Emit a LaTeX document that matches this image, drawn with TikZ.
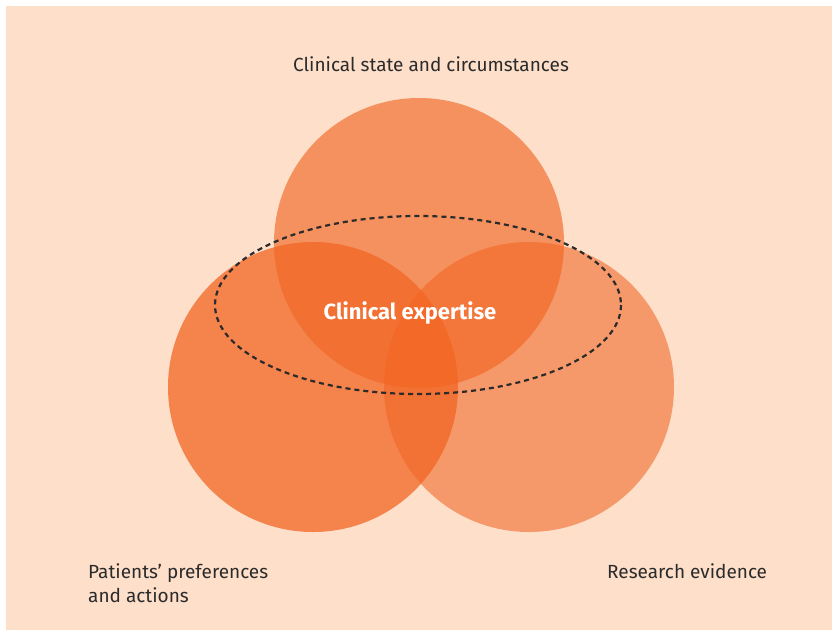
\documentclass[tikz,border=0pt]{standalone}
\usepackage{fontspec}
\setmainfont{Fira Sans}
\usepackage{tikz}
\usepackage{xcolor}
\definecolor{peach}{HTML}{FDDFCA}
\definecolor{ora}{HTML}{F26522}
\definecolor{ink}{HTML}{2B2B2B}
\tikzset{
  lbl/.style={text=ink, font=\fontsize{19}{24}\selectfont},
  ring/.style={fill=ora, draw=none}
}

\begin{document}
\begin{tikzpicture}[x=1pt, y=-1pt]
            \useasboundingbox (0,0) rectangle (836,633);
            \fill[peach] (6,6) rectangle (832,630);
            \fill[ring, fill opacity=.64] (419,243) circle (145);
            \fill[ring, fill opacity=.75] (313,387) circle (145);
            \fill[ring, fill opacity=.57] (529,387) circle (145);
            \draw[ink, line width=2.2pt, dash pattern=on 5pt off 4pt] (418,305) ellipse [x radius=203, y radius=89];
            \node[lbl] (state) at (431,64) {Clinical state and circumstances};
            \node[text=white, font=\fontsize{22}{26}\selectfont\bfseries] (expertise) at (410,313) {Clinical expertise};
            \node[lbl, anchor=north west, align=left, inner sep=0pt] (patients) at (88,563) {Patients’ preferences\\and actions};
            \node[lbl, anchor=north west, inner sep=0pt] (research) at (607,563) {Research evidence};
        \end{tikzpicture}
\end{document}
